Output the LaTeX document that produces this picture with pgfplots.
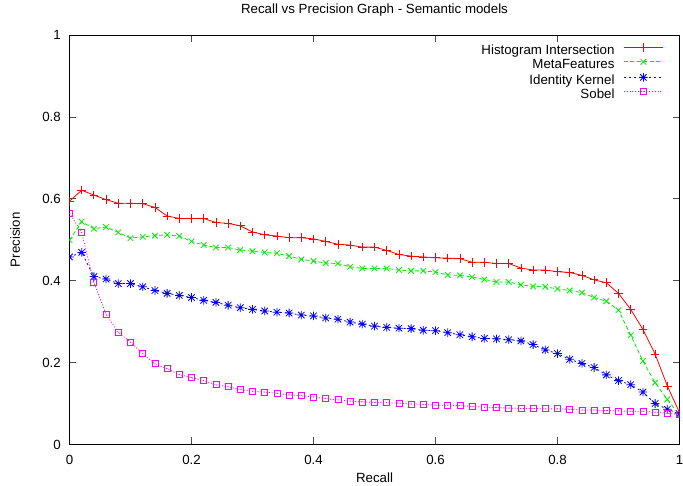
\documentclass[border=0pt]{standalone}
\usepackage{fontspec}
\setmainfont{Liberation Sans}
\usepackage{pgfplots}
\pgfplotsset{compat=1.18}

\definecolor{gpred}{RGB}{255,0,0}
\definecolor{gpgreen}{RGB}{0,235,0}
\definecolor{gpblue}{RGB}{0,0,255}
\definecolor{gpmag}{RGB}{255,0,255}

% gnuplot style point types
\pgfdeclareplotmark{gpstar}{%
  \pgfpathmoveto{\pgfqpoint{-\pgfplotmarksize}{0pt}}\pgfpathlineto{\pgfqpoint{\pgfplotmarksize}{0pt}}%
  \pgfpathmoveto{\pgfqpoint{0pt}{-\pgfplotmarksize}}\pgfpathlineto{\pgfqpoint{0pt}{\pgfplotmarksize}}%
  \pgfpathmoveto{\pgfqpoint{-.75\pgfplotmarksize}{-.75\pgfplotmarksize}}\pgfpathlineto{\pgfqpoint{.75\pgfplotmarksize}{.75\pgfplotmarksize}}%
  \pgfpathmoveto{\pgfqpoint{-.75\pgfplotmarksize}{.75\pgfplotmarksize}}\pgfpathlineto{\pgfqpoint{.75\pgfplotmarksize}{-.75\pgfplotmarksize}}%
  \pgfusepathqstroke}
\pgfdeclareplotmark{gpbox}{%
  \pgfpathrectangle{\pgfqpoint{-\pgfplotmarksize}{-\pgfplotmarksize}}{\pgfqpoint{2\pgfplotmarksize}{2\pgfplotmarksize}}%
  \pgfusepathqstroke
  \pgfpathcircle{\pgfpointorigin}{0.5pt}\pgfusepathqfill}

\pgfplotsset{
  % legend sample: write the colour out before drawing
  gpleg/.style={legend image code/.code={%
      \pgfsetstrokecolor{white}\pgfsetstrokecolor{#1}\pgfsetfillcolor{#1}%
      \draw[mark repeat=2,mark phase=2,##1]
      plot coordinates {(0pt,4pt) (19.5pt,4pt) (39pt,4pt)};}},
  hist/.style={draw=gpred, color=gpred, solid, mark=+, mark size=4.3pt, mark options={solid, draw=gpred}, gpleg=gpred},
  meta/.style={draw=gpgreen, color=gpgreen, dash pattern=on 4pt off 2.5pt, mark=x, mark size=4pt, mark options={solid, draw=gpgreen}, gpleg=gpgreen},
  iden/.style={draw=gpblue, color=gpblue, dash pattern=on 2pt off 3pt, mark=gpstar, mark size=4.3pt, mark options={solid, draw=gpblue}, gpleg=gpblue},
  sobl/.style={draw=gpmag, color=gpmag, dash pattern=on 1pt off 1.8pt, mark=gpbox, mark size=3pt, mark options={solid, draw=gpmag, fill=gpmag}, gpleg=gpmag},
}

\begin{document}
\begin{tikzpicture}
\useasboundingbox (-69.5pt,-41.5pt) rectangle (613.5pt,444.5pt);
\begin{axis}[
    scale only axis,
    width=610pt, height=409.5pt,
    xmin=0, xmax=1, ymin=0, ymax=1,
    xtick={0,0.2,...,1}, ytick={0,0.2,...,1},
    font=\fontsize{13.3}{15}\selectfont,
    /pgf/number format/assume math mode=true,
    axis line style={line width=0.8pt},
    tick align=inside,
    major tick length=7pt,
    tick style={line width=0.7pt, black!70},
    xticklabel style={anchor=base, inner sep=0pt, yshift=-20pt},
    yticklabel style={anchor=east, inner sep=0pt, xshift=-8.5pt},
    title={Recall vs Precision Graph - Semantic models},
    title style={at={(0.5,1)}, anchor=base, yshift=15.7pt, inner sep=0pt},
    xlabel={Recall},
    xlabel style={at={(0.5,0)}, anchor=base, yshift=-38.5pt, inner sep=0pt},
    ylabel={Precision},
    ylabel style={at={(axis description cs:-0.0893,0.5)}, anchor=center, inner sep=0pt},
    clip marker paths=true,
    legend cell align=right,
    legend plot pos=right,
    legend style={draw=none, fill=none, at={(1,1)}, anchor=north east,
        xshift=-16pt, yshift=-8pt, inner sep=0pt, row sep=0.3pt, column sep=9pt,
        nodes={inner sep=0pt, text height=10pt, text depth=4pt}},
    every axis plot/.append style={line width=0.8pt},
]
\addlegendimage{hist, line width=0.8pt}
\addlegendentry{Histogram Intersection}
\addlegendimage{meta, line width=0.8pt}
\addlegendentry{MetaFeatures}
\addlegendimage{iden, line width=0.8pt}
\addlegendentry{Identity Kernel}
\addlegendimage{sobl, line width=0.8pt}
\addlegendentry{Sobel}

\addplot[hist, forget plot] coordinates {
(0,0.594) (0.02,0.621) (0.04,0.609) (0.06,0.598) (0.08,0.589) (0.10,0.589)
(0.12,0.588) (0.14,0.579) (0.16,0.558) (0.18,0.552) (0.20,0.552) (0.22,0.552)
(0.24,0.542) (0.26,0.540) (0.28,0.534) (0.30,0.519) (0.32,0.512) (0.34,0.509)
(0.36,0.505) (0.38,0.505) (0.40,0.502) (0.42,0.496) (0.44,0.489) (0.46,0.487)
(0.48,0.482) (0.50,0.482) (0.52,0.474) (0.54,0.464) (0.56,0.460) (0.58,0.458)
(0.60,0.456) (0.62,0.455) (0.64,0.454) (0.66,0.445) (0.68,0.445) (0.70,0.442)
(0.72,0.442) (0.74,0.431) (0.76,0.426) (0.78,0.426) (0.80,0.422) (0.82,0.420)
(0.84,0.413) (0.86,0.402) (0.88,0.395) (0.90,0.369) (0.92,0.330) (0.94,0.281)
(0.96,0.221) (0.98,0.143) (1.00,0.078)
};
\addplot[meta, forget plot] coordinates {
(0,0.499) (0.02,0.544) (0.04,0.527) (0.06,0.531) (0.08,0.518) (0.10,0.504)
(0.12,0.507) (0.14,0.510) (0.16,0.512) (0.18,0.509) (0.20,0.496) (0.22,0.487)
(0.24,0.481) (0.26,0.481) (0.28,0.475) (0.30,0.472) (0.32,0.469) (0.34,0.467)
(0.36,0.460) (0.38,0.452) (0.40,0.448) (0.42,0.443) (0.44,0.442) (0.46,0.434)
(0.48,0.430) (0.50,0.430) (0.52,0.430) (0.54,0.426) (0.56,0.424) (0.58,0.424)
(0.60,0.421) (0.62,0.414) (0.64,0.413) (0.66,0.409) (0.68,0.403) (0.70,0.397)
(0.72,0.397) (0.74,0.390) (0.76,0.386) (0.78,0.385) (0.80,0.380) (0.82,0.376)
(0.84,0.371) (0.86,0.359) (0.88,0.350) (0.90,0.328) (0.92,0.267) (0.94,0.204)
(0.96,0.151) (0.98,0.110) (1.00,0.072)
};
\addplot[iden, forget plot] coordinates {
(0,0.458) (0.02,0.469) (0.04,0.410) (0.06,0.404) (0.08,0.393) (0.10,0.393)
(0.12,0.385) (0.14,0.376) (0.16,0.369) (0.18,0.364) (0.20,0.359) (0.22,0.352)
(0.24,0.347) (0.26,0.340) (0.28,0.334) (0.30,0.330) (0.32,0.326) (0.34,0.323)
(0.36,0.321) (0.38,0.316) (0.40,0.314) (0.42,0.309) (0.44,0.306) (0.46,0.299)
(0.48,0.294) (0.50,0.289) (0.52,0.286) (0.54,0.284) (0.56,0.283) (0.58,0.279)
(0.60,0.278) (0.62,0.273) (0.64,0.268) (0.66,0.263) (0.68,0.259) (0.70,0.258)
(0.72,0.256) (0.74,0.253) (0.76,0.244) (0.78,0.231) (0.80,0.222) (0.82,0.208)
(0.84,0.198) (0.86,0.188) (0.88,0.170) (0.90,0.156) (0.92,0.146) (0.94,0.128)
(0.96,0.100) (0.98,0.086) (1.00,0.075)
};
\addplot[sobl, forget plot] coordinates {
(0,0.565) (0.02,0.518) (0.04,0.395) (0.06,0.318) (0.08,0.274) (0.10,0.250)
(0.12,0.222) (0.14,0.197) (0.16,0.185) (0.18,0.171) (0.20,0.163) (0.22,0.156)
(0.24,0.146) (0.26,0.141) (0.28,0.134) (0.30,0.130) (0.32,0.128) (0.34,0.125)
(0.36,0.121) (0.38,0.119) (0.40,0.116) (0.42,0.112) (0.44,0.109) (0.46,0.106)
(0.48,0.104) (0.50,0.103) (0.52,0.102) (0.54,0.101) (0.56,0.099) (0.58,0.098)
(0.60,0.096) (0.62,0.096) (0.64,0.095) (0.66,0.093) (0.68,0.091) (0.70,0.090)
(0.72,0.089) (0.74,0.088) (0.76,0.088) (0.78,0.087) (0.80,0.087) (0.82,0.086)
(0.84,0.084) (0.86,0.084) (0.88,0.083) (0.90,0.082) (0.92,0.081) (0.94,0.081)
(0.96,0.079) (0.98,0.076) (1.00,0.074)
};
\end{axis}
\end{tikzpicture}
\end{document}
